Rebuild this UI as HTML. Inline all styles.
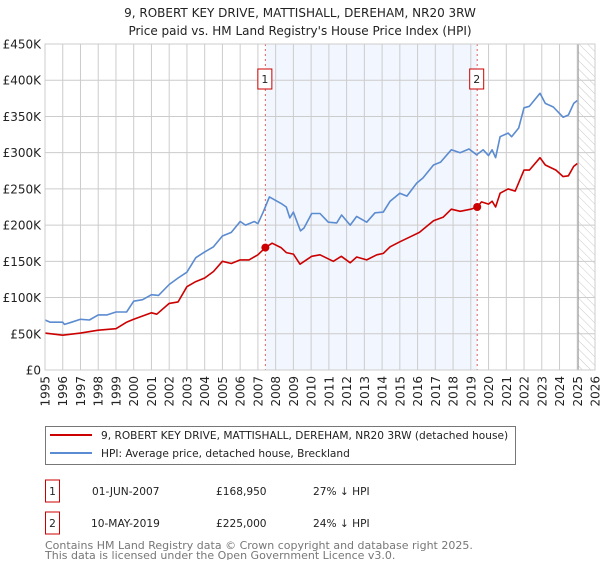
<!DOCTYPE html>
<html><head><meta charset="utf-8"><style>
body{margin:0;background:#fff;font-family:"DejaVu Sans","Liberation Sans",sans-serif;}
svg text{font-family:"DejaVu Sans","Liberation Sans",sans-serif;}
</style></head><body>
<svg id="c" width="600" height="560" xmlns="http://www.w3.org/2000/svg">
<defs><pattern id="hatch" width="6" height="6" patternUnits="userSpaceOnUse" patternTransform="rotate(-45)"><line x1="0" y1="0" x2="0" y2="6" stroke="#bbb" stroke-width="0.8"/></pattern></defs>
<text x="300" y="17" text-anchor="middle" font-size="12" fill="#222">9, ROBERT KEY DRIVE, MATTISHALL, DEREHAM, NR20 3RW</text>
<text x="300" y="35" text-anchor="middle" font-size="12" fill="#222">Price paid vs. HM Land Registry's House Price Index (HPI)</text>
<g id="plot"></g>
<rect x="45.5" y="426.5" width="470" height="38" fill="#fff" stroke="#777"/>
<line x1="50" y1="435" x2="92" y2="435" stroke="#cc0000" stroke-width="2"/>
<text x="101" y="439" font-size="10.6" fill="#222">9, ROBERT KEY DRIVE, MATTISHALL, DEREHAM, NR20 3RW (detached house)</text>
<line x1="50" y1="453" x2="92" y2="453" stroke="#5b8bd0" stroke-width="2"/>
<text x="101" y="457" font-size="10.6" fill="#222">HPI: Average price, detached house, Breckland</text>
<g font-size="10.6" fill="#222">
<rect x="45.5" y="480" width="14" height="22" fill="#fff" stroke="#cc0000"/>
<text x="52.5" y="495" text-anchor="middle">1</text>
<text x="92" y="495">01-JUN-2007</text><text x="216" y="495">£168,950</text><text x="313" y="495">27% ↓ HPI</text></g>
<g font-size="10.6" fill="#222">
<rect x="45.5" y="512" width="14" height="22" fill="#fff" stroke="#cc0000"/>
<text x="52.5" y="527" text-anchor="middle">2</text>
<text x="91" y="527">10-MAY-2019</text><text x="216" y="527">£225,000</text><text x="313" y="527">24% ↓ HPI</text></g>
<text x="45" y="549" font-size="11" fill="#777">Contains HM Land Registry data © Crown copyright and database right 2025.</text>
<text x="45" y="559" font-size="11" fill="#777">This data is licensed under the Open Government Licence v3.0.</text>
</svg>
<script>
const yTicks=[0,50000,100000,150000,200000,250000,300000,350000,400000,450000];
const yTickLabels=["£0","£50K","£100K","£150K","£200K","£250K","£300K","£350K","£400K","£450K"];
const xTicks=[1995,1996,1997,1998,1999,2000,2001,2002,2003,2004,2005,2006,2007,2008,2009,2010,2011,2012,2013,2014,2015,2016,2017,2018,2019,2020,2021,2022,2023,2024,2025,2026];
const hpiT=[1995.0,1995.3,1996.0,1996.1,1996.5,1997.0,1997.5,1998.0,1998.5,1999.0,1999.6,2000.0,2000.5,2001.0,2001.4,2002.0,2002.5,2003.0,2003.5,2004.0,2004.5,2005.0,2005.5,2006.0,2006.3,2006.8,2007.0,2007.3,2007.65,2008.3,2008.6,2008.8,2009.0,2009.2,2009.4,2009.6,2010.03,2010.5,2010.97,2011.44,2011.72,2012.2,2012.57,2013.13,2013.6,2014.07,2014.45,2015.0,2015.4,2015.95,2016.3,2016.9,2017.3,2017.9,2018.4,2018.9,2019.33,2019.7,2020.0,2020.2,2020.4,2020.65,2021.1,2021.3,2021.7,2022.0,2022.3,2022.9,2023.2,2023.65,2024.2,2024.5,2024.8,2025.0];
const hpiV=[69000,66000,66000,63000,66000,70000,69000,76000,76000,80000,80000,95000,97000,104000,103000,118000,127000,135000,155000,163000,170000,185000,190000,205000,200000,205000,202000,218000,239000,230000,225000,210000,218000,205000,192000,196000,216000,216000,204000,203000,214000,200000,212000,204000,217000,218000,233000,244000,240000,258000,265000,283000,287000,304000,300000,305000,297000,304000,296000,304000,293000,322000,327000,322000,334000,362000,364000,382000,368000,363000,349000,352000,368000,372000];
const priceT=[1995.0,1996.0,1997.0,1998.0,1999.0,1999.6,2000.0,2001.0,2001.3,2002.0,2002.5,2003.0,2003.5,2004.0,2004.5,2005.0,2005.5,2006.0,2006.5,2007.0,2007.42,2007.8,2008.3,2008.6,2009.0,2009.37,2010.03,2010.5,2011.25,2011.7,2012.2,2012.57,2013.13,2013.7,2014.07,2014.45,2015.0,2015.6,2016.1,2016.9,2017.45,2017.9,2018.4,2019.0,2019.36,2019.6,2020.0,2020.2,2020.4,2020.65,2021.1,2021.5,2022.0,2022.3,2022.9,2023.2,2023.8,2024.2,2024.5,2024.8,2025.0];
const priceV=[51000,48000,51000,55000,57000,66000,70000,79000,77000,92000,94000,115000,122000,127000,136000,150000,147000,152000,152000,159000,168950,175000,169000,162000,160000,146000,157000,159000,150000,157000,148000,156000,152000,159000,161000,170000,177000,184000,190000,206000,211000,222000,219000,222000,225000,232000,229000,233000,225000,244000,250000,247000,276000,276000,293000,283000,276000,267000,268000,281000,285000];
const saleT=[2007.42,2019.36];
const saleV=[168950,225000];
const saleLabels=["1","2"];
const L=45,R=595,T=44,B=370,x0=1995,x1=2026,yMax=450000,dataEnd=2025.05;
const xs=t=>L+(t-x0)/(x1-x0)*(R-L);
const ys=v=>B-v/yMax*(B-T);
const NS="http://www.w3.org/2000/svg";
const g=document.getElementById('plot');
function mk(tag,attrs,parent){const e=document.createElementNS(NS,tag);for(const k in attrs)e.setAttribute(k,attrs[k]);(parent||g).appendChild(e);return e;}
let e=mk('rect',{x:L,y:T,width:R-L,height:B-T,fill:'#fff'});


e=mk('rect',{x:xs(saleT[0]),y:T,width:xs(saleT[1])-xs(saleT[0]),height:B-T,fill:'#eef3fd',opacity:0.75});


e=mk('rect',{x:xs(dataEnd),y:T,width:R-xs(dataEnd),height:B-T,fill:'url(#hatch)'});


yTicks.forEach((v,i)=>{
 const l=mk('line',{x1:L,x2:R,y1:ys(v),y2:ys(v),stroke:'#ccc','stroke-width':1});
 
 
 const t=mk('text',{x:L-4,y:ys(v)+4.5,'text-anchor':'end','font-size':12,fill:'#222'});
 t.textContent=yTickLabels[i];
 
 
});
xTicks.forEach(yr=>{
 const l=mk('line',{x1:xs(yr),x2:xs(yr),y1:T,y2:B,stroke:'#ccc','stroke-width':1});
 
 
 const t=mk('text',{x:0,y:0,'text-anchor':'end','font-size':12,fill:'#222',transform:`translate(${xs(yr)+4.5},376) rotate(-90)`});
 t.textContent=yr;
 
 
});
e=mk('line',{x1:xs(dataEnd),x2:xs(dataEnd),y1:T,y2:B,stroke:'#999','stroke-width':1});


saleT.forEach((t,i)=>{
 const l=mk('line',{x1:xs(t),x2:xs(t),y1:T,y2:B,stroke:'#e06060','stroke-width':1,'stroke-dasharray':'2,3'});
 
 
});
function path(ts,vs,col,name){
 const d=ts.map((t,i)=>(i?'L':'M')+xs(t).toFixed(1)+','+ys(vs[i]).toFixed(1)).join('');
 const p=mk('path',{d:d,fill:'none',stroke:col,'stroke-width':1.6,'stroke-linejoin':'round'});
 
 
}
path(hpiT,hpiV,'#5b8bd0','hpi-line');
path(priceT,priceV,'#cc0000','price-paid-line');
saleT.forEach((t,i)=>{
 const c=mk('circle',{cx:xs(t),cy:ys(saleV[i]),r:4,fill:'#cc0000'});
 
 
 const r=mk('rect',{x:xs(t)-7.5,y:69,width:14,height:20,fill:'#fff',stroke:'#cc0000'});
 
 
 const tx=mk('text',{x:xs(t)-0.5,y:83,'text-anchor':'middle','font-size':11,fill:'#222'});
 tx.textContent=saleLabels[i];
 
 
});
e=mk('rect',{x:L,y:T,width:R-L,height:B-T,fill:'none',stroke:'#ccc'});


</script>
</body></html>
